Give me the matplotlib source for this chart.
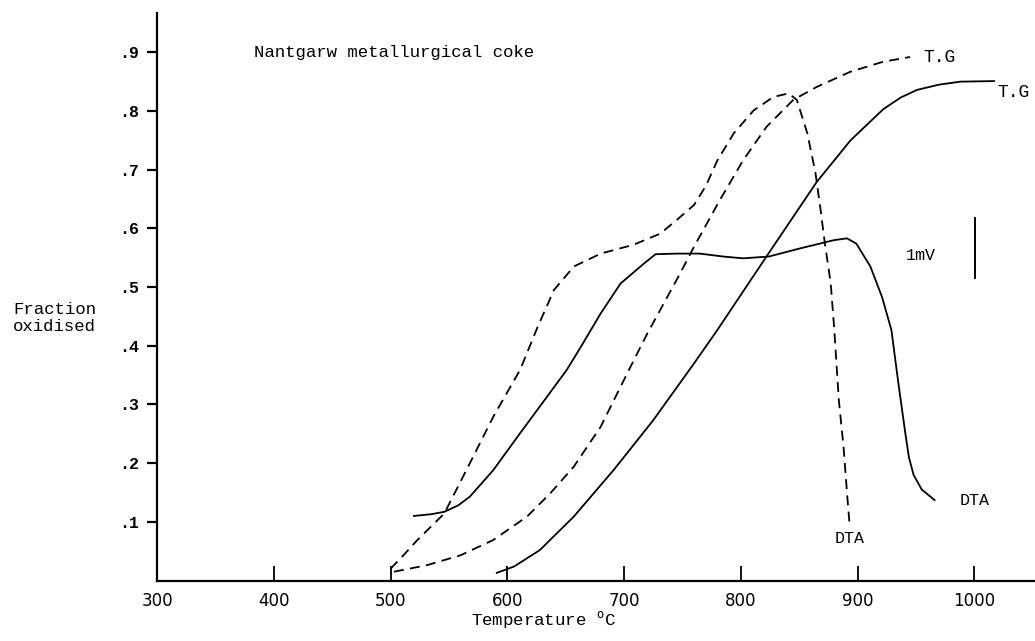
import numpy as np
import matplotlib.pyplot as plt

# traced curves (temperature degC, fraction oxidised / DTA trace)
tg_solid_x = [591, 606, 628, 657, 691, 725, 760, 780, 822, 865, 894, 922, 937, 951, 970, 988, 1017]
tg_solid_y = [0.013, 0.024, 0.052, 0.109, 0.188, 0.273, 0.370, 0.427, 0.552, 0.679, 0.750, 0.803, 0.823, 0.836,
              0.845, 0.850, 0.851]

tg_dash_x = [503, 531, 560, 588, 617, 637, 657, 680, 705, 720, 731, 748, 760, 767, 782, 802, 822, 845, 865, 894, 922, 945]
tg_dash_y = [0.015, 0.026, 0.043, 0.069, 0.109, 0.149, 0.194, 0.262, 0.362, 0.421, 0.461, 0.523, 0.569, 0.594, 0.648,
             0.716, 0.773, 0.819, 0.841, 0.867, 0.884, 0.892]

dta_solid_x = [520, 535, 546, 558, 568, 588, 611, 634, 651, 663, 680, 697, 717, 727, 745, 765, 785, 802, 824, 851,
               880, 891, 899, 911, 921, 929, 935, 941, 944, 948, 955, 966]
dta_solid_y = [0.110, 0.113, 0.117, 0.128, 0.143, 0.188, 0.251, 0.313, 0.359, 0.398, 0.455, 0.506, 0.540, 0.556,
               0.557, 0.557, 0.552, 0.549, 0.552, 0.566, 0.580, 0.583, 0.574, 0.535, 0.483, 0.427, 0.336, 0.250,
               0.210, 0.180, 0.155, 0.137]

dta_dash_x = [500, 512, 523, 546, 568, 588, 611, 626, 640, 657, 680, 708, 731, 745, 760, 770, 780, 794, 811, 828,
              841, 848, 857, 864, 868, 872, 877, 880, 884, 888, 891, 893]
dta_dash_y = [0.020, 0.045, 0.069, 0.114, 0.200, 0.279, 0.359, 0.432, 0.495, 0.535, 0.557, 0.572, 0.591, 0.614,
              0.640, 0.672, 0.716, 0.762, 0.801, 0.824, 0.830, 0.819, 0.762, 0.694, 0.637, 0.575, 0.507, 0.430,
              0.307, 0.228, 0.149, 0.100]

xticks = [300, 400, 500, 600, 700, 800, 900, 1000]
yticks = [0.1, 0.2, 0.3, 0.4, 0.5, 0.6, 0.7, 0.8, 0.9]
ytick_labels = ['.1', '.2', '.3', '.4', '.5', '.6', '.7', '.8', '.9']

mono = 'Liberation Mono'

fig = plt.figure(figsize=(10.35, 6.41), dpi=100)
ax = fig.add_axes([157/1035, 60.5/641, 878/1035, 567.5/641])
ax.set_xlim(300, 1052)
ax.set_ylim(0, 0.967)

lw = 1.3
ax.plot(tg_solid_x, tg_solid_y, color='black', lw=lw)
ax.plot(dta_solid_x, dta_solid_y, color='black', lw=lw)
l1, = ax.plot(tg_dash_x, tg_dash_y, color='black', lw=lw)
l2, = ax.plot(dta_dash_x, dta_dash_y, color='black', lw=lw)
for l in (l1, l2):
    l.set_dashes((5.5, 3.5))

# 1 mV scale bar
ax.plot([1001, 1001], [0.516, 0.617], color='black', lw=1.4)
ax.text(967, 0.554, '1mV', family=mono, fontsize=12, ha='right', va='center')

ax.text(956, 0.892, 'T.G', family=mono, fontsize=13, ha='left', va='center')
ax.text(1020, 0.832, 'T.G', family=mono, fontsize=13, ha='left', va='center', clip_on=False)
ax.text(1000, 0.137, 'DTA', family=mono, fontsize=12, ha='center', va='center')
ax.text(893, 0.072, 'DTA', family=mono, fontsize=12, ha='center', va='center')
ax.text(383, 0.900, 'Nantgarw metallurgical coke', family=mono, fontsize=12.5, ha='left', va='center')

for s in ('top', 'right'):
    ax.spines[s].set_visible(False)
for s in ('left', 'bottom'):
    ax.spines[s].set_linewidth(1.6)

ax.set_xticks(xticks)
ax.set_xticklabels([str(t) for t in xticks], family='DejaVu Sans', fontsize=12)
ax.tick_params(axis='x', direction='in', length=11, width=1.3, pad=8)
ax.set_yticks(yticks)
ax.set_yticklabels(ytick_labels, family=mono, fontsize=12, fontweight='bold')
ax.tick_params(axis='y', direction='out', length=7, width=1.6, pad=6)

ax.set_xlabel(r'Temperature $^{\mathtt{o}}$C', family=mono, fontsize=12.5)
ax.xaxis.set_label_coords(0.44, -0.05)
fig.text(13/1035, 1 - 318/641, 'Fraction\noxidised', family=mono, fontsize=12.5,
         ha='left', va='center', linespacing=1.2)

fig.savefig('out.png', dpi=100)
plt.close(fig)
